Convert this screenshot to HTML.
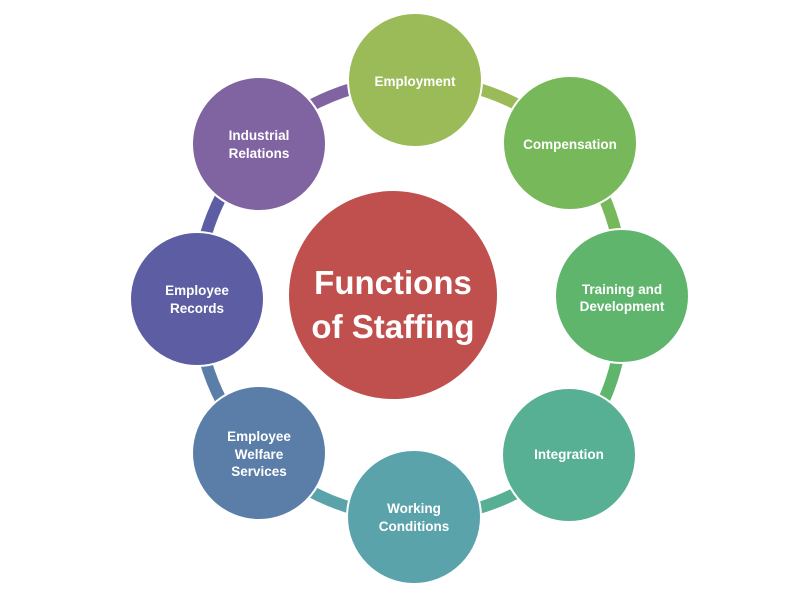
<!DOCTYPE html>
<html><head><style>body{margin:0;background:#fff}svg{display:block}</style></head><body>
<svg width="800" height="600" viewBox="0 0 800 600" font-family="'Liberation Sans',sans-serif" font-weight="bold" fill="#fff">
<g fill="none" stroke-width="12">
<path d="M259,144 A218,218 0 0 1 415,80" stroke="#8064a2"/>
<path d="M415,80 A218,218 0 0 1 570,143" stroke="#9bbb59"/>
<path d="M570,143 A218,218 0 0 1 622,296" stroke="#76b85a"/>
<path d="M622,296 A218,218 0 0 1 569,455" stroke="#5fb56c"/>
<path d="M569,455 A218,218 0 0 1 414,517" stroke="#57b093"/>
<path d="M414,517 A218,218 0 0 1 259,453" stroke="#5aa3ab"/>
<path d="M259,453 A218,218 0 0 1 197,299" stroke="#5b7ea9"/>
<path d="M197,299 A218,218 0 0 1 259,144" stroke="#5d5da3"/>
</g>
<g stroke="#fff" stroke-width="2">
<circle cx="393" cy="295" r="105" fill="#c0504d"/>
<circle cx="415" cy="80" r="67" fill="#9bbb59"/>
<circle cx="570" cy="143" r="67" fill="#76b85a"/>
<circle cx="622" cy="296" r="67" fill="#5fb56c"/>
<circle cx="569" cy="455" r="67" fill="#57b093"/>
<circle cx="414" cy="517" r="67" fill="#5aa3ab"/>
<circle cx="259" cy="453" r="67" fill="#5b7ea9"/>
<circle cx="197" cy="299" r="67" fill="#5d5da3"/>
<circle cx="259" cy="144" r="67" fill="#8064a2"/>
</g>
<g font-size="13.5" text-anchor="middle">
<text x="415" y="86">Employment</text>
<text x="570" y="149">Compensation</text>
<text x="622" y="294">Training and</text><text x="622" y="311">Development</text>
<text x="569" y="459">Integration</text>
<text x="414" y="513">Working</text><text x="414" y="531">Conditions</text>
<text x="259" y="441">Employee</text><text x="259" y="459">Welfare</text><text x="259" y="476">Services</text>
<text x="197" y="295">Employee</text><text x="197" y="313">Records</text>
<text x="259" y="140">Industrial</text><text x="259" y="158">Relations</text>
<text x="393" y="294" font-size="33">Functions</text>
<text x="393" y="338" font-size="33">of Staffing</text>
</g>
</svg>
</body></html>
